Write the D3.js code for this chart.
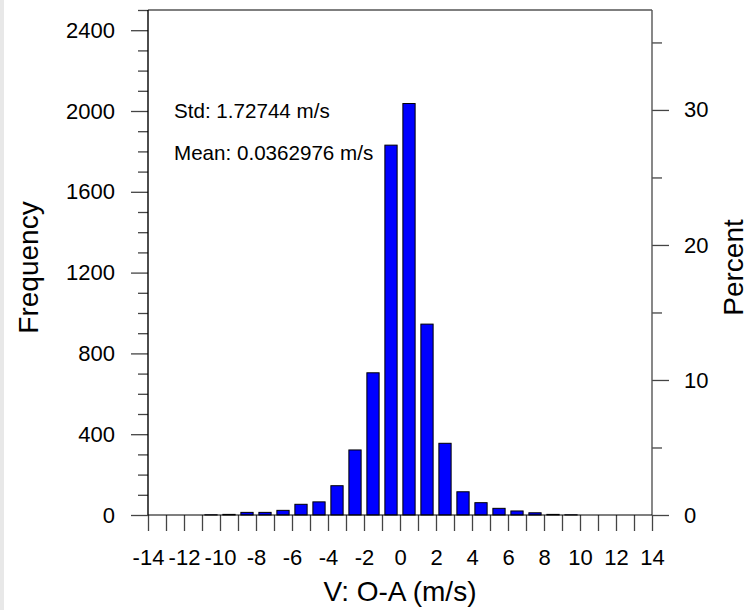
<!DOCTYPE html>
<html>
<head>
  <meta charset="utf-8">
  <script src="https://d3js.org/d3.v7.min.js"></script>
  <style>
    body { margin: 0; background: #fff; font-family: 'Liberation Sans', Arial, sans-serif; }
  </style>
</head>
<body>
  <div id="my_dataviz"></div>
  <script>
    // histogram bins (centre of each 1 m/s bin) and counts
    var binCenters = [-13.5, -12.5, -11.5, -10.5, -9.5, -8.5, -7.5, -6.5, -5.5, -4.5, -3.5, -2.5, -1.5, -0.5,
                      0.5, 1.5, 2.5, 3.5, 4.5, 5.5, 6.5, 7.5, 8.5, 9.5, 10.5, 11.5, 12.5, 13.5];
    var frequency = [0, 0, 0, 1, 3, 13, 13, 23, 53, 65, 145, 322, 704, 1831,
                     2037, 945, 355, 115, 61, 33, 20, 11, 3, 1, 0, 0, 0, 0];
    var totalCount = 6684;

    var xTickLabels = [-14, -12, -10, -8, -6, -4, -2, 0, 2, 4, 6, 8, 10, 12, 14];
    var freqTicks = [0, 400, 800, 1200, 1600, 2000, 2400];
    var percentTicks = [0, 10, 20, 30];
    var statsLines = ["Std: 1.72744 m/s", "Mean: 0.0362976 m/s"];

    var W = 754, H = 610;
    var margin = {top: 10, right: 102, bottom: 95, left: 148},
      width = W - margin.left - margin.right,
      height = H - margin.top - margin.bottom;

    var root = d3.select("#my_dataviz")
      .append("svg")
      .attr("width", W)
      .attr("height", H);

    root.append("rect").attr("width", W).attr("height", H).attr("fill", "#fff");
    root.append("rect").attr("width", 4).attr("height", H).attr("fill", "#e8e8e8");

    var svg = root.append("g")
      .attr("transform", "translate(" + margin.left + "," + margin.top + ")");

    var x = d3.scaleLinear().domain([-14, 14]).range([0, width]);
    var y = d3.scaleLinear().domain([0, 2500]).range([height, 0]);
    var yPct = d3.scaleLinear().domain([0, 2500 / totalCount * 100]).range([height, 0]);

    var tickColor = "#444";
    var fmt = d3.format("d");

    // bars
    var barW = (x(1) - x(0)) * 0.68;
    svg.selectAll("rect.bar")
      .data(binCenters.map(function (c, i) { return {c: c, v: frequency[i]}; }).filter(function (d) { return d.v > 0; }))
      .enter()
      .append("rect")
      .attr("class", "bar")
      .attr("x", function (d) { return x(d.c) - barW / 2; })
      .attr("y", function (d) { return y(d.v); })
      .attr("width", barW)
      .attr("height", function (d) { return height - y(d.v); })
      .attr("fill", "#0000ff")
      .attr("stroke", "#000")
      .attr("stroke-width", 1);

    // left axis: major + minor
    var minorFreq = d3.range(0, 2501, 100).filter(function (v) { return v % 400 !== 0; });
    svg.append("g")
      .call(d3.axisLeft(y).tickValues(freqTicks).tickSize(17).tickSizeOuter(0).tickPadding(16).tickFormat(fmt));
    svg.append("g")
      .call(d3.axisLeft(y).tickValues(minorFreq).tickSize(10).tickSizeOuter(0).tickFormat(""));

    // right axis: percent
    var minorPct = [5, 15, 25, 35];
    svg.append("g")
      .attr("transform", "translate(" + width + ",0)")
      .call(d3.axisRight(yPct).tickValues(percentTicks).tickSize(17).tickSizeOuter(0).tickPadding(15).tickFormat(fmt));
    svg.append("g")
      .attr("transform", "translate(" + width + ",0)")
      .call(d3.axisRight(yPct).tickValues(minorPct).tickSize(10).tickSizeOuter(0).tickFormat(""));

    // bottom axis: tick every 1, label every 2
    var xAxis = svg.append("g")
      .attr("transform", "translate(0," + height + ")")
      .call(d3.axisBottom(x).tickValues(d3.range(-14, 15, 1)).tickSize(16).tickSizeOuter(0)
        .tickFormat(function (d) { return xTickLabels.indexOf(d) >= 0 ? String(d) : ""; }));

    root.selectAll(".domain").remove();
    root.selectAll(".tick line").attr("stroke", tickColor).attr("stroke-width", 1.3);
    root.selectAll(".tick text")
      .attr("fill", "#000")
      .style("font-family", "'Liberation Sans', Arial, sans-serif")
      .style("font-size", "22px");
    xAxis.selectAll("text")
      .attr("y", 0).attr("dy", 0)
      .attr("transform", "translate(0,50)");

    // frame
    svg.append("line").attr("x1", 0).attr("x2", width).attr("y1", 0).attr("y2", 0).attr("stroke", "#000").attr("stroke-width", 1.2);
    svg.append("line").attr("x1", 0).attr("x2", 0).attr("y1", 0).attr("y2", height).attr("stroke", "#000").attr("stroke-width", 1.4);
    svg.append("line").attr("x1", width).attr("x2", width).attr("y1", 0).attr("y2", height).attr("stroke", "#555").attr("stroke-width", 1.4);
    svg.append("line").attr("x1", 0).attr("x2", width).attr("y1", height).attr("y2", height).attr("stroke", "#000").attr("stroke-width", 1.2);

    // stats text
    svg.selectAll("text.stat")
      .data(statsLines)
      .enter()
      .append("text")
      .attr("class", "stat")
      .attr("x", 26)
      .attr("y", function (d, i) { return 108 + i * 42; })
      .style("font-size", "20.6px")
      .attr("fill", "#000")
      .text(function (d) { return d; });

    // axis titles
    root.append("text")
      .attr("transform", "translate(38," + (margin.top + height / 2 + 5) + ")rotate(-90)")
      .style("text-anchor", "middle")
      .style("font-size", "28px")
      .text("Frequency");
    root.append("text")
      .attr("transform", "translate(743," + (margin.top + height / 2 + 5) + ")rotate(-90)")
      .style("text-anchor", "middle")
      .style("font-size", "28px")
      .text("Percent");
    root.append("text")
      .attr("x", margin.left + width / 2)
      .attr("y", 601)
      .style("text-anchor", "middle")
      .style("font-size", "28px")
      .text("V: O-A (m/s)");
  </script>
</body>
</html>
